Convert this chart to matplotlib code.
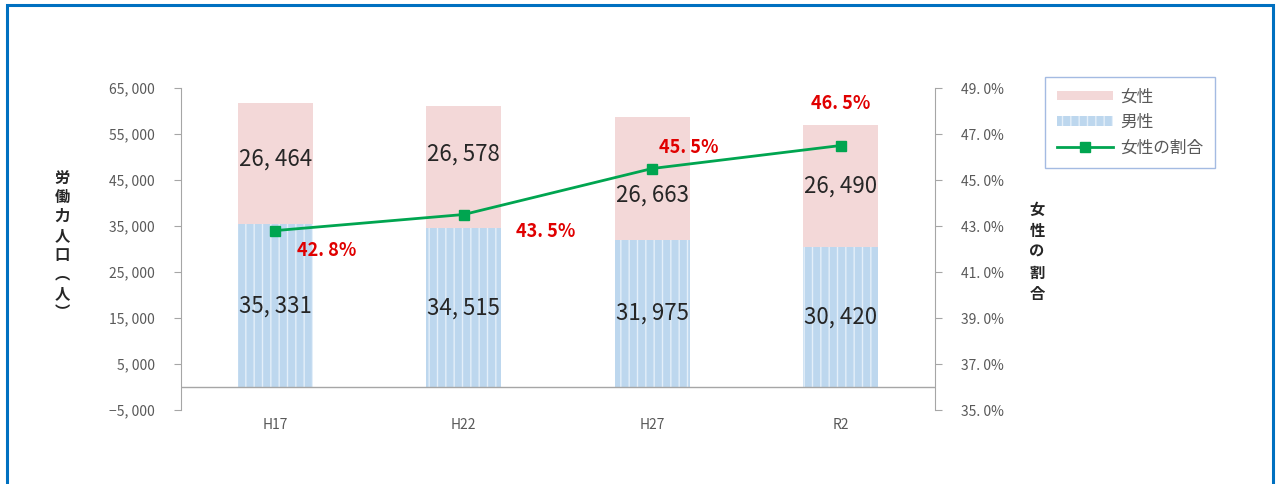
import matplotlib.pyplot as plt
from matplotlib.patches import Rectangle, Patch
from matplotlib.lines import Line2D

plt.rcParams['font.family'] = ['Noto Sans CJK JP', 'DejaVu Sans']
plt.rcParams['hatch.linewidth'] = 1.0

# データ
categories = ['H17', 'H22', 'H27', 'R2']
male = [35331, 34515, 31975, 30420]
female = [26464, 26578, 26663, 26490]
female_ratio = [42.8, 43.5, 45.5, 46.5]

left_ticks = [-5000, 5000, 15000, 25000, 35000, 45000, 55000, 65000]
right_ticks = [35, 37, 39, 41, 43, 45, 47, 49]

pink = '#f3d8d8'
blue = '#bdd7ee'
green = '#00a550'
gray = '#595959'

fig = plt.figure(figsize=(12.79, 4.84), dpi=100)
ax = fig.add_axes([181 / 1279, 74 / 484, 754 / 1279, 322 / 484])
ax2 = ax.twinx()

x = list(range(len(categories)))
ax.bar(x, male, width=0.4, color=blue, edgecolor='#e4eff9', hatch='||', linewidth=0, zorder=2)
ax.bar(x, female, width=0.4, bottom=male, color=pink, linewidth=0, zorder=2)

# 棒のラベル
female_shift = [3, 9, -12, 0]
for i in x:
    ax.text(i, male[i] / 2, f'{male[i]:,}'.replace(',', ', '), ha='center', va='center',
            fontsize=16, color='#262626', zorder=3)
    ax.annotate(f'{female[i]:,}'.replace(',', ', '), (i, male[i] + female[i] / 2),
                xytext=(0, female_shift[i]), textcoords='offset points',
                ha='center', va='center', fontsize=16, color='#262626', zorder=3)

ax.axhline(0, color='#a6a6a6', lw=1, zorder=3)
ax.set_xlim(-0.5, 3.5)
ax.set_ylim(-5000, 65000)
ax.set_yticks(left_ticks)
ax.set_yticklabels([f'{v:,}'.replace(',', ', ').replace('-', '−') for v in left_ticks])
ax.set_xticks(x)
ax.set_xticklabels(categories)
ax.tick_params(axis='x', length=0, pad=6, labelsize=10, labelcolor=gray)
ax.tick_params(axis='y', length=5, color='#a6a6a6', labelsize=10, labelcolor=gray, pad=14)
for s in ['top', 'right', 'bottom']:
    ax.spines[s].set_visible(False)
ax.spines['left'].set_color('#a6a6a6')

# 女性の割合
ax2.plot(x, female_ratio, color=green, lw=2, marker='s', markersize=7, zorder=4)
ratio_offsets = [(37, -14), (59, -12), (26, 15), (0, 30)]
for i in x:
    ax2.annotate(f'{female_ratio[i]:.1f}%'.replace('.', '. '), (i, female_ratio[i]),
                 xytext=ratio_offsets[i], textcoords='offset points', ha='center',
                 va='center', fontsize=13, fontweight='bold', color='#e00000')
ax2.set_ylim(35, 49)
ax2.set_yticks(right_ticks)
ax2.set_yticklabels([f'{v:.1f}%'.replace('.', '. ') for v in right_ticks])
ax2.tick_params(axis='y', length=5, color='#a6a6a6', labelsize=10, labelcolor=gray, pad=14)
for s in ['top', 'left', 'bottom']:
    ax2.spines[s].set_visible(False)
ax2.spines['right'].set_color('#a6a6a6')

# 縦書きの軸ラベル
fig.text(62 / 1279, 1 - 245 / 484, '\n'.join('労働力人口︵人︶'), ha='center', va='center',
         fontsize=11, fontweight='bold', color='#262626', linespacing=1.25)
fig.text(1037 / 1279, 1 - 252 / 484, '\n'.join('女性の割合'), ha='center', va='center',
         fontsize=11, fontweight='bold', color='#262626', linespacing=1.4)

# 凡例
handles = [Patch(facecolor=pink, edgecolor='none'),
           Patch(facecolor=blue, edgecolor='#e4eff9', hatch='||', linewidth=0),
           Line2D([], [], color=green, lw=2, marker='s', markersize=7)]
leg = fig.legend(handles, ['女性', '男性', '女性の割合'], loc='upper left',
                 bbox_to_anchor=(1045 / 1279, 1 - 77 / 484), borderaxespad=0, fontsize=12,
                 frameon=True, fancybox=False, handlelength=3.4, handleheight=0.5,
                 borderpad=0.7, labelspacing=0.5, handletextpad=0.4)
leg.get_frame().set_edgecolor('#8eaadb')
leg.get_frame().set_linewidth(1)
for t in leg.get_texts():
    t.set_color(gray)

# 外枠
fig.patches.append(Rectangle((7 / 1279, -0.05), 1266 / 1279, 1 - 5 / 484 + 0.05,
                             transform=fig.transFigure, fill=False, edgecolor='#0070c0',
                             lw=2.2))

fig.savefig('out.png', dpi=100)
